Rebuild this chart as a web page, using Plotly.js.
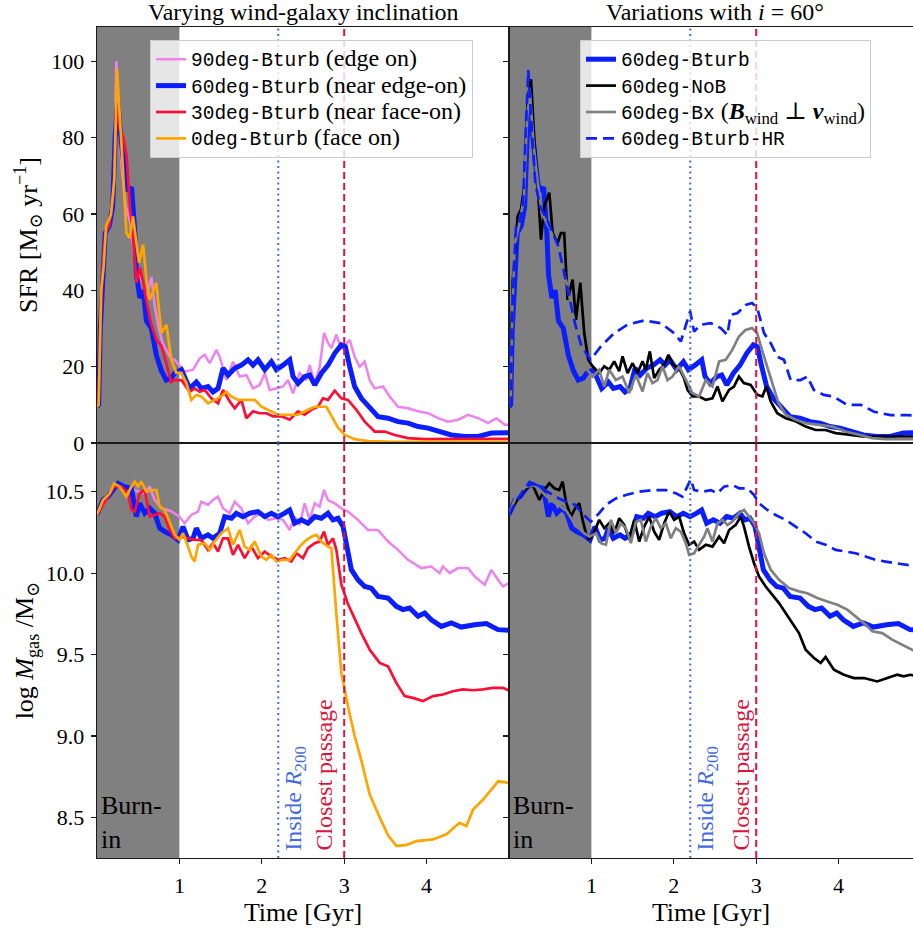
<!DOCTYPE html>
<html><head><meta charset="utf-8">
<script src="https://cdn.plot.ly/plotly-3.0.1.min.js"></script>
<style>html,body{margin:0;padding:0;background:#fff}#chart{width:913px;height:929px}</style>
</head><body><div id="chart"></div>
<script>
// ---------------- DATA (time [Gyr], value) ----------------
// SFR [Msun/yr], left panel
const sfr90 = [[0,9.5],[0.02,10],[0.05,40],[0.1,53],[0.15,58],[0.2,66],[0.235,100],[0.26,85],[0.3,72],[0.35,62],[0.4,58],[0.45,50],[0.5,45],[0.55,42],[0.6,38],[0.66,43.5],[0.7,36],[0.75,30],[0.8,26],[0.85,24],[0.9,22],[0.943,21.8],[1.064,18.7],[1.166,19.2],[1.246,22.2],[1.307,23.1],[1.368,20.9],[1.449,24.4],[1.489,22.6],[1.57,16.5],[1.651,21.3],[1.732,17.4],[1.813,17.8],[1.894,14.3],[1.975,15.2],[2.036,18.3],[2.096,13.9],[2.177,14.3],[2.258,14.8],[2.318,16.5],[2.379,13.0],[2.46,18.3],[2.541,16.5],[2.581,20.4],[2.642,15.6],[2.703,20],[2.755,28.8],[2.804,26.2],[2.844,24.9],[2.905,28.4],[2.965,24.5],[3.067,27.0],[3.127,22.6],[3.188,20],[3.249,21.3],[3.31,16.5],[3.37,14.3],[3.471,14.8],[3.552,12.2],[3.653,9.5],[3.775,9.1],[3.896,8.3],[4.018,7.8],[4.139,6.5],[4.26,5.6],[4.382,6.1],[4.503,7.4],[4.625,6.5],[4.746,5.2],[4.847,6.5],[4.948,4.8],[5.0,4.8]];
const sfr60 = [[0,9.5],[0.02,10],[0.04,30],[0.07,46],[0.1,55],[0.15,57],[0.19,62],[0.22,80],[0.25,90],[0.28,82],[0.32,74],[0.35,68],[0.38,66],[0.42,67],[0.46,55],[0.48,44],[0.52,38],[0.56,40],[0.6,32],[0.66,30],[0.72,23],[0.78,19],[0.84,16.5],[0.9,17],[0.943,18.3],[1.024,19.2],[1.125,14.3],[1.206,16],[1.267,14.3],[1.348,14.8],[1.408,13.4],[1.469,14.3],[1.53,19.6],[1.591,17.8],[1.671,19.6],[1.752,20.4],[1.833,21.8],[1.894,20.4],[1.954,21.8],[2.036,19.2],[2.117,21.3],[2.177,19.2],[2.258,20.4],[2.339,21.8],[2.379,17.4],[2.44,15.6],[2.52,17.4],[2.581,17.8],[2.642,15.2],[2.723,18.3],[2.804,20.4],[2.885,23.5],[2.965,25.7],[3.014,25.2],[3.067,20],[3.127,14.8],[3.208,11.7],[3.31,9.1],[3.411,6.9],[3.532,6.5],[3.653,5.6],[3.775,5.2],[3.896,4.3],[4.018,3.9],[4.139,3.0],[4.3,2.1],[4.463,1.7],[4.625,1.7],[4.787,2.6],[4.948,2.7],[5.0,2.7]];
const sfr30 = [[0,9.5],[0.02,10],[0.04,30],[0.07,46],[0.1,55],[0.15,57],[0.2,65],[0.24,88],[0.28,82],[0.32,80],[0.36,75],[0.4,62],[0.44,53],[0.48,42],[0.52,46],[0.56,42],[0.6,37],[0.66,31],[0.72,27],[0.78,25.5],[0.84,21],[0.9,16],[0.943,16.5],[1.024,16.5],[1.125,13.4],[1.186,14.3],[1.246,13.4],[1.307,13.9],[1.388,11.7],[1.469,10.4],[1.53,13.9],[1.611,10.9],[1.671,9.1],[1.752,11.3],[1.813,6.5],[1.894,8.3],[1.975,7.8],[2.056,7.8],[2.137,7.0],[2.238,7.0],[2.339,6.1],[2.44,8.3],[2.52,7.4],[2.601,8.7],[2.682,9.5],[2.743,11.7],[2.804,11.3],[2.885,13.7],[2.965,11.7],[3.046,11.3],[3.148,8.7],[3.249,5.6],[3.37,3.0],[3.491,3.0],[3.613,2.1],[3.775,1.3],[3.977,1.0],[4.26,1.0],[4.584,1.0],[4.948,1.1],[5.0,1.1]];
const sfr0 = [[0,9.5],[0.02,10],[0.05,40],[0.08,46],[0.11,56.7],[0.17,59.9],[0.21,69],[0.243,97.9],[0.296,78.7],[0.336,62],[0.357,55],[0.397,53.7],[0.437,59.4],[0.478,52.4],[0.51,47.2],[0.559,52],[0.6,42.8],[0.64,37.5],[0.72,41.9],[0.781,28.8],[0.842,31],[0.902,21.8],[0.963,18.4],[1.024,18.4],[1.085,15.7],[1.145,11.3],[1.206,12.6],[1.267,12.2],[1.348,10.4],[1.429,11.3],[1.51,12.2],[1.57,13.4],[1.631,12.2],[1.712,11.3],[1.793,11.3],[1.914,11.3],[1.995,9.5],[2.117,8.3],[2.198,7.4],[2.318,7.4],[2.44,7.4],[2.561,8.7],[2.642,9.5],[2.784,9.5],[2.844,7.0],[2.925,4.0],[3.006,2.1],[3.127,1.0],[3.29,0.5],[3.6,0.3],[4.2,0.3],[5.0,0.3]];
// SFR, right panel
const sfrNoB = [[0,9.5],[0.02,10],[0.044,42],[0.105,59.4],[0.145,61.2],[0.186,67.3],[0.226,90],[0.267,95.3],[0.307,79.5],[0.347,68.2],[0.388,53.3],[0.428,62],[0.489,65.6],[0.53,55],[0.59,52.4],[0.63,55],[0.67,55],[0.711,37.5],[0.772,42.8],[0.812,32.3],[0.865,42],[0.913,28.8],[0.962,21.8],[1.014,20.1],[1.095,18.3],[1.156,20.1],[1.216,19.2],[1.277,21.4],[1.337,18.8],[1.378,22.7],[1.439,18.3],[1.5,20.9],[1.56,18.3],[1.62,21.4],[1.66,19.2],[1.709,24.0],[1.762,17],[1.822,19.2],[1.883,20.5],[1.935,23.1],[1.99,20.5],[2.064,19.6],[2.124,17],[2.166,13.9],[2.226,12.2],[2.307,12.2],[2.388,11.3],[2.469,11.7],[2.53,14.8],[2.59,10.9],[2.67,13.9],[2.73,14.8],[2.79,17.4],[2.85,15.7],[2.933,15.2],[3.014,12.6],[3.075,12.2],[3.123,14.8],[3.176,10.9],[3.256,7.8],[3.358,6.5],[3.479,5.7],[3.6,4.3],[3.721,3.4],[3.842,3.4],[3.964,2.6],[4.125,2.2],[4.287,1.7],[4.489,1.7],[4.69,1.7],[4.95,1.7]];
const sfrBx = [[0,9.5],[0.02,10],[0.04,35],[0.07,52],[0.12,57],[0.18,64],[0.22,85],[0.25,93],[0.3,78],[0.35,68],[0.4,60],[0.5,56],[0.6,50],[0.7,42],[0.8,31],[0.88,22],[0.933,19.6],[1.014,17.4],[1.095,19.2],[1.156,14.8],[1.216,19.2],[1.297,16.5],[1.378,17.4],[1.459,13.1],[1.54,17.8],[1.62,13.5],[1.68,18.3],[1.741,15.7],[1.802,16.5],[1.863,20.1],[1.923,16.5],[1.984,17.4],[2.064,20.1],[2.145,16.5],[2.226,13.1],[2.307,12.2],[2.388,16.5],[2.469,14.8],[2.55,21.4],[2.63,21.8],[2.71,24.4],[2.79,27.9],[2.87,29.6],[2.95,30.1],[3.01,28.8],[3.07,24.4],[3.13,20.1],[3.19,15.7],[3.27,10.5],[3.358,7.4],[3.479,6.1],[3.6,5.2],[3.76,4.8],[3.923,4.3],[4.085,3.0],[4.246,2.2],[4.408,1.3],[4.57,1.0],[4.95,1.0]];
const sfrHR = [[0,9.5],[0.02,10],[0.04,35],[0.085,56.8],[0.12,57],[0.17,62],[0.2,80],[0.234,97.7],[0.28,81],[0.32,68],[0.378,62],[0.48,57.6],[0.6,51.5],[0.7,41],[0.8,31.4],[0.88,25.3],[0.99,21.8],[1.115,25.3],[1.277,28.8],[1.438,31],[1.64,32.1],[1.842,31.4],[2.004,28.8],[2.085,26.6],[2.145,31],[2.198,34.5],[2.246,29.2],[2.327,31],[2.448,31.4],[2.57,30.1],[2.65,28.3],[2.69,33.6],[2.77,34],[2.873,36.2],[2.95,36.7],[3.014,35.3],[3.095,28.8],[3.175,26.2],[3.257,22.6],[3.337,21.8],[3.418,16.5],[3.54,16.5],[3.62,17.4],[3.7,13.9],[3.82,12.6],[3.94,12.2],[4.1,10],[4.27,10],[4.43,8.2],[4.63,7.3],[4.83,7.3],[4.95,7.2]];
// log Mgas [Msun], left panel
const gas90 = [[0,10.36],[0.07,10.45],[0.13,10.47],[0.19,10.51],[0.25,10.55],[0.33,10.53],[0.42,10.52],[0.5,10.5],[0.58,10.49],[0.64,10.53],[0.7,10.45],[0.78,10.40],[0.9,10.38],[1.0,10.347],[1.064,10.306],[1.145,10.357],[1.226,10.378],[1.266,10.439],[1.347,10.419],[1.408,10.449],[1.469,10.47],[1.529,10.398],[1.61,10.368],[1.671,10.439],[1.752,10.398],[1.833,10.306],[1.914,10.347],[1.995,10.368],[2.075,10.327],[2.177,10.337],[2.258,10.327],[2.338,10.265],[2.399,10.347],[2.46,10.296],[2.52,10.429],[2.581,10.327],[2.642,10.429],[2.702,10.408],[2.755,10.51],[2.803,10.449],[2.884,10.429],[2.965,10.398],[3.046,10.378],[3.168,10.327],[3.289,10.265],[3.41,10.265],[3.532,10.194],[3.653,10.143],[3.774,10.082],[3.936,10.031],[4.057,10.041],[4.159,10.0],[4.199,10.041],[4.28,10.0],[4.381,10.031],[4.502,10.031],[4.583,9.98],[4.705,9.929],[4.786,10.02],[4.867,9.959],[4.927,9.918],[5.0,9.939]];
const gas60 = [[0,10.36],[0.073,10.449],[0.134,10.47],[0.194,10.51],[0.255,10.551],[0.336,10.531],[0.417,10.521],[0.478,10.347],[0.518,10.429],[0.579,10.368],[0.64,10.398],[0.7,10.368],[0.761,10.276],[0.821,10.255],[0.902,10.235],[0.983,10.204],[1.044,10.286],[1.105,10.204],[1.165,10.214],[1.206,10.276],[1.266,10.214],[1.347,10.235],[1.408,10.214],[1.489,10.245],[1.55,10.347],[1.631,10.337],[1.691,10.368],[1.772,10.347],[1.853,10.368],[1.954,10.378],[2.035,10.347],[2.116,10.368],[2.197,10.347],[2.278,10.368],[2.338,10.388],[2.399,10.306],[2.48,10.327],[2.56,10.306],[2.642,10.347],[2.722,10.337],[2.803,10.368],[2.864,10.327],[2.925,10.337],[2.986,10.286],[3.046,10.143],[3.087,10.021],[3.168,9.959],[3.249,9.918],[3.329,9.908],[3.41,9.857],[3.532,9.847],[3.633,9.796],[3.714,9.776],[3.794,9.786],[3.896,9.735],[3.977,9.755],[4.057,9.714],[4.179,9.673],[4.3,9.694],[4.421,9.669],[4.583,9.683],[4.725,9.69],[4.867,9.653],[5.0,9.649]];
const gas30 = [[0,10.36],[0.134,10.47],[0.21,10.531],[0.3,10.531],[0.377,10.49],[0.417,10.388],[0.458,10.378],[0.518,10.49],[0.579,10.51],[0.64,10.347],[0.7,10.357],[0.761,10.368],[0.821,10.347],[0.882,10.265],[0.943,10.214],[1.024,10.224],[1.105,10.214],[1.185,10.204],[1.266,10.204],[1.347,10.143],[1.408,10.184],[1.469,10.133],[1.529,10.214],[1.59,10.214],[1.651,10.112],[1.711,10.174],[1.792,10.092],[1.873,10.163],[1.954,10.092],[2.035,10.133],[2.116,10.102],[2.197,10.082],[2.278,10.092],[2.359,10.071],[2.419,10.122],[2.5,10.092],[2.56,10.153],[2.642,10.184],[2.702,10.194],[2.755,10.255],[2.803,10.174],[2.864,10.214],[2.905,10.143],[2.965,9.93],[3.046,9.81],[3.127,9.72],[3.208,9.632],[3.31,9.53],[3.431,9.449],[3.532,9.428],[3.633,9.326],[3.734,9.245],[3.835,9.234],[3.956,9.214],[4.078,9.245],[4.199,9.255],[4.32,9.275],[4.442,9.286],[4.563,9.281],[4.685,9.286],[4.806,9.296],[4.927,9.296],[5.0,9.28]];
const gas0 = [[0,10.36],[0.073,10.449],[0.154,10.49],[0.21,10.551],[0.275,10.531],[0.356,10.47],[0.417,10.531],[0.458,10.562],[0.498,10.531],[0.538,10.562],[0.599,10.5],[0.66,10.51],[0.72,10.51],[0.761,10.408],[0.821,10.388],[0.882,10.306],[0.943,10.235],[1.003,10.204],[1.044,10.245],[1.105,10.163],[1.145,10.102],[1.185,10.071],[1.226,10.174],[1.307,10.184],[1.367,10.143],[1.428,10.194],[1.509,10.245],[1.59,10.276],[1.651,10.174],[1.731,10.265],[1.792,10.163],[1.853,10.143],[1.914,10.194],[1.995,10.102],[2.055,10.082],[2.116,10.112],[2.177,10.071],[2.258,10.082],[2.338,10.082],[2.399,10.122],[2.46,10.163],[2.52,10.194],[2.601,10.224],[2.662,10.235],[2.722,10.194],[2.803,10.163],[2.844,10.153],[2.905,9.75],[2.965,9.39],[3.046,9.183],[3.127,9.0],[3.208,8.85],[3.31,8.64],[3.431,8.5],[3.532,8.39],[3.633,8.325],[3.75,8.33],[3.876,8.355],[4.078,8.365],[4.24,8.396],[4.4,8.467],[4.483,8.447],[4.564,8.549],[4.686,8.61],[4.787,8.671],[4.868,8.722],[5.0,8.712]];
// log Mgas, right panel
const gasNoB = [[0,10.36],[0.1,10.45],[0.206,10.521],[0.287,10.541],[0.368,10.449],[0.429,10.51],[0.489,10.551],[0.55,10.521],[0.61,10.51],[0.651,10.562],[0.691,10.439],[0.752,10.347],[0.812,10.408],[0.853,10.429],[0.893,10.327],[0.934,10.245],[0.974,10.204],[1.035,10.255],[1.095,10.327],[1.156,10.276],[1.216,10.306],[1.277,10.245],[1.338,10.337],[1.398,10.296],[1.459,10.204],[1.52,10.327],[1.58,10.194],[1.641,10.286],[1.701,10.347],[1.762,10.255],[1.822,10.204],[1.883,10.306],[1.944,10.378],[2.004,10.327],[2.065,10.347],[2.125,10.245],[2.186,10.174],[2.247,10.194],[2.307,10.143],[2.388,10.174],[2.469,10.163],[2.55,10.224],[2.61,10.184],[2.671,10.265],[2.752,10.296],[2.812,10.347],[2.852,10.286],[2.913,10.163],[2.974,10.061],[3.034,9.98],[3.115,9.918],[3.196,9.867],[3.277,9.816],[3.357,9.755],[3.438,9.694],[3.519,9.632],[3.6,9.53],[3.701,9.479],[3.782,9.449],[3.842,9.485],[3.943,9.407],[4.064,9.376],[4.186,9.356],[4.307,9.356],[4.469,9.335],[4.59,9.356],[4.71,9.376],[4.79,9.366],[4.87,9.376],[4.95,9.366]];
const gasBx = [[0,10.36],[0.085,10.47],[0.2,10.53],[0.3,10.54],[0.4,10.5],[0.5,10.45],[0.6,10.42],[0.7,10.38],[0.8,10.3],[0.9,10.25],[0.974,10.224],[1.055,10.245],[1.115,10.184],[1.176,10.174],[1.237,10.327],[1.297,10.245],[1.358,10.306],[1.418,10.276],[1.479,10.184],[1.54,10.316],[1.6,10.327],[1.661,10.194],[1.721,10.286],[1.782,10.337],[1.843,10.276],[1.903,10.306],[1.964,10.214],[2.024,10.276],[2.085,10.255],[2.146,10.184],[2.186,10.112],[2.247,10.122],[2.307,10.174],[2.368,10.224],[2.408,10.276],[2.469,10.194],[2.53,10.306],[2.59,10.327],[2.651,10.296],[2.711,10.316],[2.792,10.368],[2.852,10.388],[2.913,10.347],[2.974,10.306],[3.034,10.245],[3.095,10.122],[3.176,10.021],[3.277,9.959],[3.398,9.908],[3.519,9.888],[3.62,9.877],[3.741,9.847],[3.863,9.826],[3.984,9.806],[4.105,9.776],[4.206,9.735],[4.327,9.684],[4.408,9.643],[4.529,9.632],[4.65,9.592],[4.772,9.561],[4.95,9.515]];
const gasHR = [[0,10.36],[0.1,10.45],[0.2,10.53],[0.3,10.55],[0.4,10.52],[0.5,10.49],[0.6,10.46],[0.732,10.43],[0.8,10.42],[0.88,10.37],[0.994,10.316],[1.095,10.368],[1.176,10.419],[1.297,10.459],[1.418,10.48],[1.58,10.5],[1.742,10.51],[1.903,10.51],[2.024,10.49],[2.105,10.47],[2.166,10.531],[2.206,10.576],[2.247,10.51],[2.348,10.5],[2.449,10.51],[2.53,10.49],[2.61,10.531],[2.711,10.541],[2.792,10.521],[2.893,10.521],[2.974,10.48],[3.034,10.429],[3.135,10.388],[3.236,10.357],[3.357,10.327],[3.479,10.286],[3.6,10.245],[3.721,10.194],[3.842,10.174],[3.964,10.143],[4.085,10.133],[4.206,10.122],[4.327,10.102],[4.448,10.082],[4.57,10.071],[4.69,10.061],[4.772,10.051],[4.95,10.041]];

const ticksSFR = [0,20,40,60,80,100];
const ticksGas = [8.5,9.0,9.5,10.0,10.5];
const ticksGasText = ['8.5','9.0','9.5','10.0','10.5'];
const ticksTime = [1,2,3,4];
const tBurnEnd = 1.0, tInside = 2.2, tClosest = 3.0;

// ---------------- STYLE / LAYOUT ----------------
const SERIF = 'Liberation Serif, DejaVu Serif, serif';
const MONO = 'Liberation Mono';
const mono = s => '<span style="font-family:' + MONO + ';font-size:19.5px">' + s + '</span>';
const ser = s => '<span style="font-size:24px">' + s + '</span>';
const C = {violet:'#EE82EE', blue:'#0a1eff', red:'#FF0D35', orange:'#FFA500', black:'#000000', gray:'#808080', royal:'#4169E1', crimson:'#DC143C'};

const W = 913, H = 929, ML = 97, MR = 0, MT = 27, MB = 71;
const PW = W - ML - MR, PH = H - MT - MB;
const xSplit = (509 - ML) / PW;      // boundary between left and right panels
const ySplit = (858 - 443) / PH;     // boundary between top and bottom panels
const rightRange = (913 - 509) / 82.4;

function tr(d, xa, ya, color, width, name, legend, show, dash) {
  return {type:'scatter', mode:'lines', x:d.map(p=>p[0]), y:d.map(p=>p[1]), xaxis:xa, yaxis:ya,
    line:{color:color, width:width, dash:dash||'solid'}, name:name, legend:legend, showlegend:show, hoverinfo:'skip'};
}
const dashHR = '11px,6px';
const traces = [
  tr(sfr90,'x','y',C.violet,2.5, mono('90deg-Bturb')+ser(' (edge on)'),'legend',true),
  tr(sfr60,'x','y',C.blue,5, mono('60deg-Bturb')+ser(' (near edge-on)'),'legend',true),
  tr(sfr30,'x','y',C.red,2.7, mono('30deg-Bturb')+ser(' (near face-on)'),'legend',true),
  tr(sfr0,'x','y',C.orange,2.7, mono('0deg-Bturb')+ser(' (face on)'),'legend',true),
  tr(sfr60,'x2','y2',C.blue,5, mono('60deg-Bturb'),'legend2',true),
  tr(sfrNoB,'x2','y2',C.black,2.7, mono('60deg-NoB'),'legend2',true),
  tr(sfrBx,'x2','y2',C.gray,2.7, mono('60deg-Bx')+ser(' (<b><i>B</i></b><sub>wind</sub> ⊥ <b><i>v</i></b><sub>wind</sub>)'),'legend2',true),
  tr(sfrHR,'x2','y2',C.blue,2.7, mono('60deg-Bturb-HR'),'legend2',true,dashHR),
  tr(gas90,'x3','y3',C.violet,2.5,'g90','legend',false),
  tr(gas60,'x3','y3',C.blue,5,'g60','legend',false),
  tr(gas30,'x3','y3',C.red,2.7,'g30','legend',false),
  tr(gas0,'x3','y3',C.orange,2.7,'g0','legend',false),
  tr(gas60,'x4','y4',C.blue,5,'g60r','legend',false),
  tr(gasNoB,'x4','y4',C.black,2.7,'gNoB','legend',false),
  tr(gasBx,'x4','y4',C.gray,2.7,'gBx','legend',false),
  tr(gasHR,'x4','y4',C.blue,2.7,'gHR','legend',false,dashHR)
];

const base = {showline:true, linecolor:'#1a1a1a', linewidth:1.3, ticks:'outside', ticklen:5, tickwidth:1.2,
  tickcolor:'#1a1a1a', zeroline:false, showgrid:false, fixedrange:true,
  tickfont:{family:SERIF, size:22, color:'#000'}, ticklabelstandoff:2};
const ax = o => Object.assign({}, base, o);
const titleFont = {family:SERIF, size:26, color:'#000'};

const shapes = [];
[['x','y'],['x2','y2'],['x3','y3'],['x4','y4']].forEach(([xa,ya])=>{
  shapes.push({type:'rect', xref:xa, yref:ya+' domain', x0:0, x1:tBurnEnd, y0:0, y1:1, fillcolor:'#808080', line:{width:0}, layer:'below'});
  shapes.push({type:'line', xref:xa, yref:ya+' domain', x0:tInside, x1:tInside, y0:0, y1:1, line:{color:C.royal, width:2, dash:'2px,3.5px'}, layer:'above'});
  shapes.push({type:'line', xref:xa, yref:ya+' domain', x0:tClosest, x1:tClosest, y0:0, y1:1, line:{color:C.crimson, width:2, dash:'7px,4px'}, layer:'above'});
});

const annFont = (c,s)=>({family:SERIF, size:s, color:c});
const annotations = [
  {xref:'paper', yref:'paper', x:(303-ML)/PW, y:1+(MT-12)/PH, text:'Varying wind-galaxy inclination', showarrow:false, font:annFont('#000',24), xanchor:'center', yanchor:'middle'},
  {xref:'paper', yref:'paper', x:(715-ML)/PW, y:1+(MT-12)/PH, text:'Variations with <i>i</i> = 60°', showarrow:false, font:annFont('#000',24), xanchor:'center', yanchor:'middle'}
];
[['x3','y3',2.40,2.75],['x4','y4',2.40,2.81]].forEach(([xa,ya,xi,xc])=>{
  annotations.push({xref:xa, yref:ya, x:xi, y:8.285, text:'Inside <i>R</i><sub>200</sub>', textangle:-90, showarrow:false, font:annFont(C.royal,24), xanchor:'center', yanchor:'bottom'});
  annotations.push({xref:xa, yref:ya, x:xc, y:8.285, text:'Closest passage', textangle:-90, showarrow:false, font:annFont(C.crimson,24), xanchor:'center', yanchor:'bottom'});
  annotations.push({xref:xa, yref:ya, x:0.03, y:8.262, text:'Burn-<br>in', showarrow:false, font:annFont('#000',26), xanchor:'left', yanchor:'bottom', align:'left'});
});

const legendBase = {xanchor:'left', yanchor:'top', bgcolor:'rgba(255,255,255,0.8)', bordercolor:'#cccccc', borderwidth:1,
  font:{family:SERIF, size:18, color:'#000'}, tracegroupgap:0};

const layout = {
  width:W, height:H, autosize:false, margin:{l:ML, r:MR, t:MT, b:MB, pad:0},
  paper_bgcolor:'#fff', plot_bgcolor:'#fff', showlegend:true,
  font:{family:SERIF, color:'#000'},
  xaxis: ax({domain:[0,xSplit], range:[0,5], anchor:'y', ticks:'', showticklabels:false, mirror:true}),
  yaxis: ax({domain:[ySplit,1], range:[0,109], anchor:'x', tickvals:ticksSFR, mirror:true,
    title:{text:'SFR [M<sub>⊙</sub> yr<sup>−1</sup>]', font:titleFont, standoff:6}}),
  xaxis2: ax({domain:[xSplit,1], range:[0,rightRange], anchor:'y2', ticks:'', showticklabels:false, mirror:true}),
  yaxis2: ax({domain:[ySplit,1], range:[0,109], anchor:'x2', tickvals:ticksSFR, showticklabels:false}),
  xaxis3: ax({domain:[0,xSplit], range:[0,5], anchor:'y3', tickvals:ticksTime, mirror:true,
    title:{text:'Time [Gyr]', font:titleFont, standoff:4}}),
  yaxis3: ax({domain:[0,ySplit], range:[8.251,10.799], anchor:'x3', tickvals:ticksGas, ticktext:ticksGasText, mirror:true,
    title:{text:'log <i>M</i><sub>gas</sub> /M<sub>⊙</sub>', font:titleFont, standoff:4}}),
  xaxis4: ax({domain:[xSplit,1], range:[0,rightRange], anchor:'y4', tickvals:ticksTime, mirror:true,
    title:{text:'Time [Gyr]', font:titleFont, standoff:4}}),
  yaxis4: ax({domain:[0,ySplit], range:[8.251,10.799], anchor:'x4', tickvals:ticksGas, showticklabels:false}),
  legend: Object.assign({x:(150-ML)/PW, y:1-(40-MT)/PH}, legendBase),
  legend2: Object.assign({x:(580-ML)/PW, y:1-(40-MT)/PH}, legendBase),
  shapes:shapes, annotations:annotations
};

Plotly.newPlot('chart', traces, layout, {staticPlot:true, displayModeBar:false});
</script>
</body></html>
